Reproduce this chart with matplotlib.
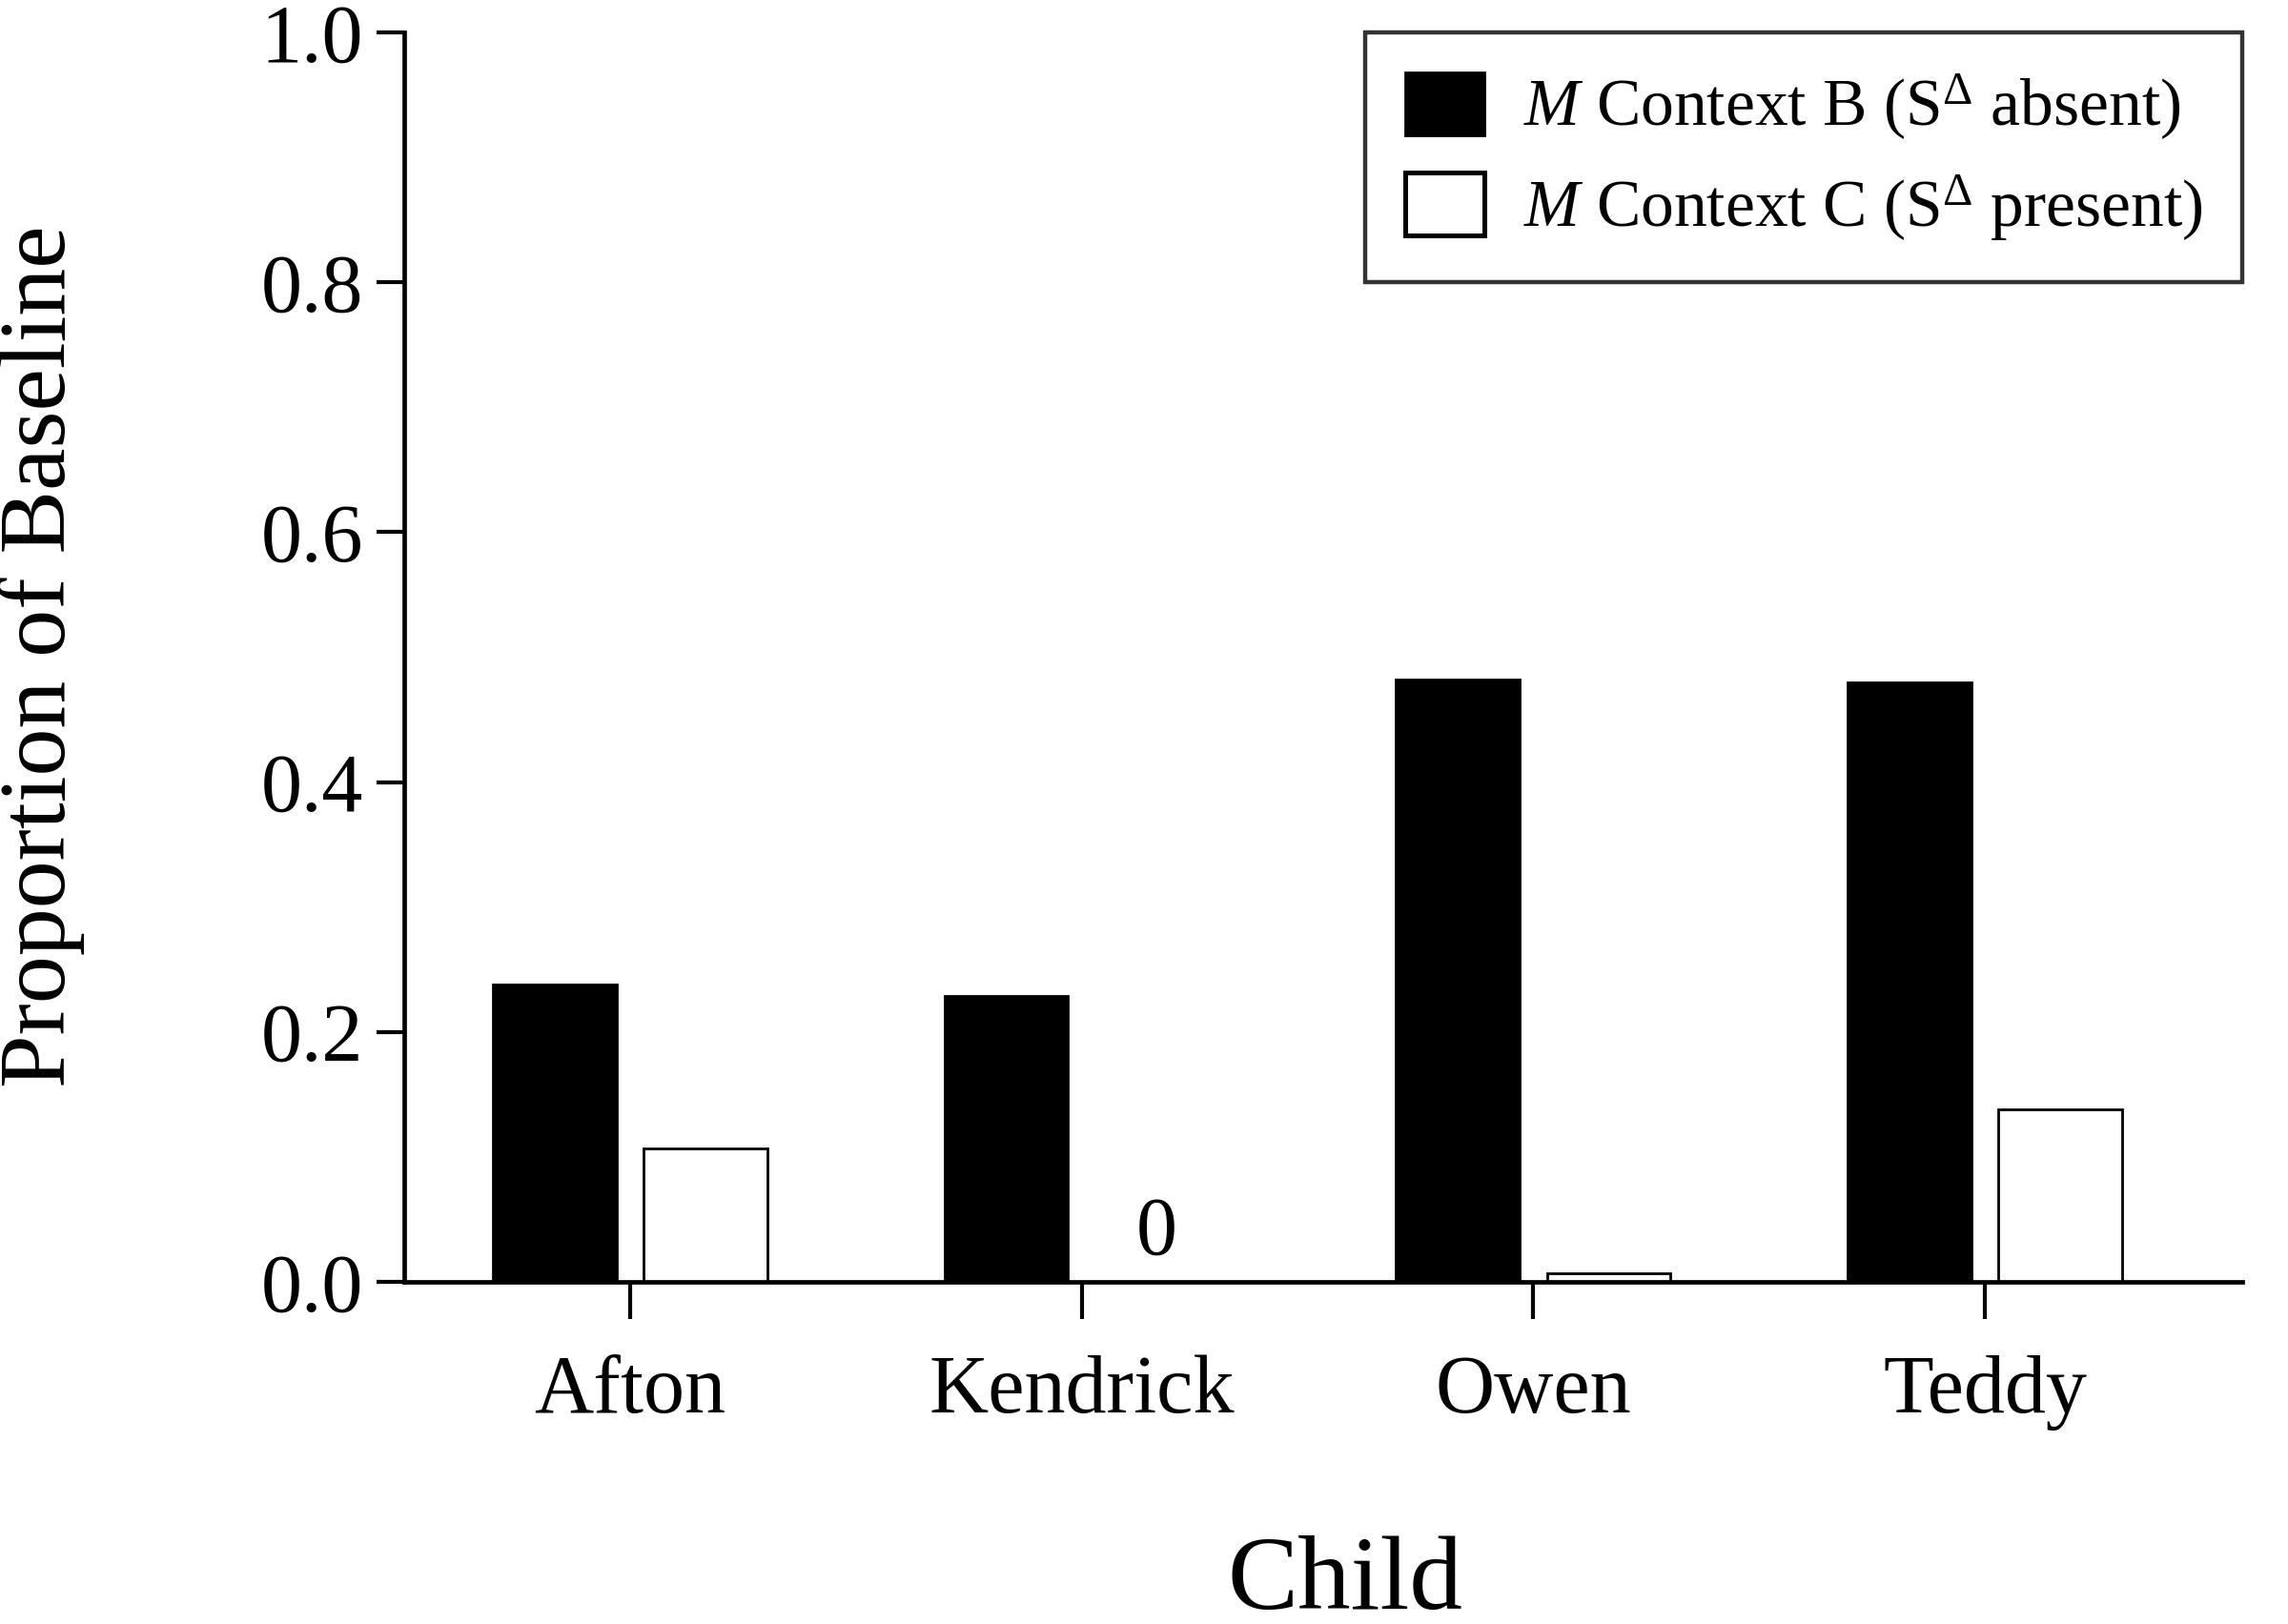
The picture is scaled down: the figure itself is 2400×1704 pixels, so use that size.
import matplotlib
matplotlib.use("Agg")
import matplotlib.pyplot as plt
import numpy as np

plt.rcParams['font.family'] = ['Liberation Serif', 'DejaVu Serif']
plt.rcParams['mathtext.fontset'] = 'custom'
plt.rcParams['mathtext.rm'] = 'Liberation Serif'
plt.rcParams['mathtext.it'] = 'Liberation Serif:italic'

# data
children = ['Afton', 'Kendrick', 'Owen', 'Teddy']
context_b = [0.238, 0.229, 0.482, 0.480]   # S-delta absent
context_c = [0.107, 0.0, 0.007, 0.138]     # S-delta present
series_names = [r'$M$ Context B (S$^{\Delta}$ absent)',
                r'$M$ Context C (S$^{\Delta}$ present)']
yticks = [0.0, 0.2, 0.4, 0.6, 0.8, 1.0]

fig = plt.figure(figsize=(12, 8.52), dpi=200)
ax = fig.add_axes([0.1767, 0.2107, 0.8033, 0.7694])

x = np.arange(len(children))
w = 0.274
off = 0.167
ax.bar(x - off, context_b, w, color='black', edgecolor='black', linewidth=1.0,
       label=series_names[0])
ax.bar(x + off, context_c, w, color='white', edgecolor='black', linewidth=1.0,
       label=series_names[1])

# zero label for the empty bar
for i, v in enumerate(context_c):
    if v == 0:
        ax.text(x[i] + off, 0.008, '0', ha='center', va='bottom', fontsize=31)

ax.set_xlim(-0.5, 3.57)
ax.set_ylim(0, 1.0)
ax.set_yticks(yticks)
ax.set_yticklabels([f'{t:.1f}' for t in yticks], fontsize=31)
ax.set_xticks(x)
ax.set_xticklabels(children, fontsize=31)

for s in ['top', 'right']:
    ax.spines[s].set_visible(False)
for s in ['left', 'bottom']:
    ax.spines[s].set_linewidth(1.7)
ax.tick_params(axis='y', length=10.5, width=1.5, pad=5)
ax.tick_params(axis='x', length=14, width=1.5, pad=13.5)

fig.text(0.018, 0.5957, 'Proportion of Baseline', fontsize=36,
         rotation=90, ha='center', va='center')
fig.text(0.588, 0.0252, 'Child', fontsize=40, ha='center', va='center')

leg = ax.legend(loc='upper right', bbox_to_anchor=(1, 1), borderaxespad=0,
                fontsize=25, frameon=True, fancybox=False, edgecolor='black',
                handlelength=1.2, handleheight=1.1, handletextpad=0.58,
                labelspacing=0.45, borderpad=0.6)
leg.get_frame().set_linewidth(1.6)
leg.legend_handles[1].set_linewidth(1.8)

fig.savefig('out.png', dpi=200)
